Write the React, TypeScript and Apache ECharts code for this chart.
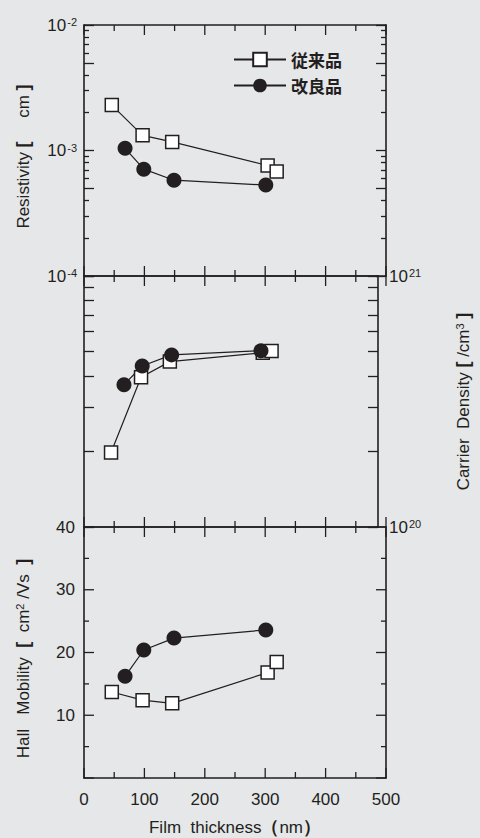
import React, { useEffect, useRef } from "react";
import * as echarts from "echarts";

// ---- data ----
const seriesNames = ["従来品", "改良品"];
const squareX = [46, 97, 146, 304, 319];
const circleX = [68, 99, 149, 301];
const resistivitySquare = [2.3e-3, 1.32e-3, 1.17e-3, 7.6e-4, 6.8e-4];
const resistivityCircle = [1.04e-3, 7.1e-4, 5.8e-4, 5.3e-4];
const densitySquare = [1.98e20, 3.95e20, 4.56e20, 4.95e20, 5.03e20];
const densityCircle = [3.69e20, 4.38e20, 4.85e20, 5.04e20];
const mobilitySquare = [13.7, 12.4, 11.9, 16.8, 18.5];
const mobilityCircle = [16.2, 20.4, 22.3, 23.6];

// ---- tick values ----
const thicknessLabels = [0, 100, 200, 300, 400, 500];
const thicknessMajorTicks = [0, 100, 200, 300, 400, 500];
const thicknessMinorTicks = [50, 150, 250, 350, 450];
const resistivityLabels = [1e-4, 1e-3, 1e-2];
const resistivityMajorTicks = [1e-4, 5e-4, 1e-3, 5e-3, 1e-2];
const resistivityMinorTicks = [2e-4, 3e-4, 4e-4, 6e-4, 7e-4, 8e-4, 9e-4, 2e-3, 3e-3, 4e-3, 6e-3, 7e-3, 8e-3, 9e-3];
// top value kept a hair below 1e21 so log rounding does not drop it
const densityLabels = [1e20, 0.99999e21];
const densityTicks = [1e20, 2e20, 3e20, 4e20, 5e20, 6e20, 7e20, 8e20, 9e20, 0.99999e21];
const mobilityLabels = [10, 20, 30, 40];
const mobilityMajorTicks = [0, 10, 20, 30, 40];
const mobilityMinorTicks = [5, 15, 25, 35];

const INK = "#231f20";
const FONT = "'Liberation Sans', Arial, Helvetica, sans-serif";
const CJK = "'Noto Sans CJK JP', 'Noto Sans CJK SC', sans-serif";

// layout
const PLOT_LEFT = 84;
const PLOT_RIGHT = 386;
const PANEL_TOPS = [25, 276, 527];
const PANEL_H = 251;
const X_MIN = 0;
const X_MAX = 500;
const MOB_MIN = 0;
const MOB_MAX = 40;

const pairs = (xs: number[], ys: number[]) => xs.map((x, i) => [x, ys[i]]);

const supFormatter = (v: number) => {
  const e = Math.round(Math.log10(v));
  return `{b|10}{s|${e}}`;
};

const labelRich = {
  b: { fontSize: 17, fontFamily: FONT, color: INK },
  s: { fontSize: 11, fontFamily: FONT, color: INK, verticalAlign: "top", padding: [0, 0, 0, 1] },
};

const nameRich = {
  n: { fontSize: 17, fontFamily: FONT, color: INK },
  br: { fontSize: 18, fontFamily: FONT, color: INK, fontWeight: "bold" },
  s: { fontSize: 11, fontFamily: FONT, color: INK, verticalAlign: "top" },
};

type AxisSpec = {
  type: string;
  gridIndex: number;
  position: string;
  min: number;
  max: number;
  ticks?: number[];
  tickLen?: number;
  showLine: boolean;
  labels?: number[];
  labelMargin?: number;
  log?: boolean;
  extra?: any;
};

function axis(s: AxisSpec) {
  const base: any = {
    type: s.type,
    gridIndex: s.gridIndex,
    position: s.position,
    min: s.min,
    max: s.max,
    axisLine: { show: s.showLine, onZero: false, lineStyle: { color: INK, width: 1.6 } },
    axisTick: s.ticks
      ? {
          show: true,
          inside: true,
          length: s.tickLen,
          customValues: s.ticks,
          lineStyle: { color: INK, width: 1.3 },
        }
      : { show: false },
    minorTick: { show: false },
    splitLine: { show: false },
    minorSplitLine: { show: false },
    axisLabel: s.labels
      ? {
          show: true,
          customValues: s.labels,
          showMinLabel: true,
          showMaxLabel: true,
          margin: s.labelMargin ?? 8,
          ...(s.log
            ? { formatter: supFormatter, rich: labelRich }
            : { fontSize: 17, fontFamily: FONT, color: INK }),
        }
      : { show: false },
    ...(s.extra || {}),
  };
  if (s.type === "log") base.logBase = 10;
  return base;
}

function xAxesFor(gridIndex: number, withLabels: boolean) {
  const common = { type: "value", gridIndex, min: X_MIN, max: X_MAX };
  return [
    axis({
      ...common,
      position: "bottom",
      showLine: true,
      ...(withLabels
        ? {
            labels: thicknessLabels,
            labelMargin: 13,
            extra: {
              name: "{n|Film  thickness}{br|（}{n|nm}{br|）}",
              nameLocation: "middle",
              nameGap: 40,
              nameTextStyle: { rich: nameRich },
            },
          }
        : {}),
    }),
    axis({ ...common, position: "top", showLine: true }),
  ];
}

const squareStyle = {
  symbol: "rect",
  symbolSize: 13,
  itemStyle: { color: "#ffffff", borderColor: INK, borderWidth: 1.5 },
  lineStyle: { color: INK, width: 1.2 },
};
const circleStyle = {
  symbol: "circle",
  symbolSize: 15,
  itemStyle: { color: INK, borderColor: INK, borderWidth: 0 },
  lineStyle: { color: INK, width: 1.2 },
};

function buildOption() {
  const grids = PANEL_TOPS.map((t) => ({ left: PLOT_LEFT, right: 480 - PLOT_RIGHT, top: t, height: PANEL_H }));
  const xAxis = [...xAxesFor(0, false), ...xAxesFor(1, false), ...xAxesFor(2, true)];

  const resCommon = { type: "log", gridIndex: 0, min: 1e-4, max: 1e-2, log: true };
  const denCommon = { type: "log", gridIndex: 1, min: 1e20, max: 1e21, log: true };
  const mobCommon = { type: "value", gridIndex: 2, min: MOB_MIN, max: MOB_MAX };
  const yAxis = [
    axis({
      ...resCommon,
      position: "left",
      ticks: resistivityMajorTicks,
      tickLen: 10,
      showLine: true,
      labels: resistivityLabels,
      labelMargin: 7,
      extra: {
        name: "{n|Resistivity }{br|[}{n|     cm }{br|]}",
        nameLocation: "middle",
        nameGap: 52,
        nameRotate: 90,
        nameTextStyle: { rich: nameRich, padding: [0, 12, 0, 0] },
      },
    }),
    axis({ ...resCommon, position: "right", ticks: resistivityMajorTicks, tickLen: 10, showLine: true }),
    axis({ ...resCommon, position: "left", ticks: resistivityMinorTicks, tickLen: 5, showLine: false }),
    axis({ ...resCommon, position: "right", ticks: resistivityMinorTicks, tickLen: 5, showLine: false }),
    axis({
      ...denCommon,
      position: "right",
      ticks: densityTicks,
      tickLen: 10,
      showLine: true,
      labels: densityLabels,
      labelMargin: 11,
      extra: {
        name: "{n|Carrier  Density }{br|[}{n| /cm}{s|3}{n| }{br|]}",
        nameLocation: "middle",
        nameGap: 76,
        nameRotate: 90,
        nameTextStyle: { rich: nameRich },
      },
    }),
    axis({ ...denCommon, position: "left", ticks: densityTicks, tickLen: 10, showLine: true }),
    axis({
      ...mobCommon,
      position: "left",
      showLine: true,
      labels: mobilityLabels,
      labelMargin: 9,
      extra: {
        name: "{n|Hall   Mobility  }{br|[}{n|  cm}{s|2}{n| /Vs  }{br|]}",
        nameLocation: "middle",
        nameGap: 52,
        nameRotate: 90,
        nameTextStyle: { rich: nameRich, padding: [0, 12, 0, 0] },
      },
    }),
    axis({ ...mobCommon, position: "right", showLine: true }),
  ];
  const series: any[] = [
    { type: "line", name: seriesNames[0], xAxisIndex: 0, yAxisIndex: 0, data: pairs(squareX, resistivitySquare), ...squareStyle },
    { type: "line", name: seriesNames[1], xAxisIndex: 0, yAxisIndex: 0, data: pairs(circleX, resistivityCircle), ...circleStyle },
    { type: "line", name: seriesNames[0], xAxisIndex: 2, yAxisIndex: 4, data: pairs(squareX, densitySquare), ...squareStyle },
    { type: "line", name: seriesNames[1], xAxisIndex: 2, yAxisIndex: 4, data: pairs(circleX, densityCircle), ...circleStyle },
    { type: "line", name: seriesNames[0], xAxisIndex: 4, yAxisIndex: 6, data: pairs(squareX, mobilitySquare), ...squareStyle },
    { type: "line", name: seriesNames[1], xAxisIndex: 4, yAxisIndex: 6, data: pairs(circleX, mobilityCircle), ...circleStyle },
  ];
  return {
    animation: false,
    backgroundColor: "#e6e7e9",
    grid: grids,
    xAxis,
    yAxis,
    legend: {
      data: seriesNames,
      orient: "vertical",
      left: 228,
      top: 46,
      itemWidth: 52,
      itemHeight: 17,
      itemGap: 9,
      selectedMode: false,
      textStyle: { fontSize: 17, fontWeight: "bold", fontFamily: CJK, color: INK },
    },
    series,
  };
}

// tick marks for the linear axes (thickness and mobility)
function buildTickGraphics(chart: any) {
  const els: any[] = [];
  const style = { stroke: INK, lineWidth: 1.3 };
  const fin = (v: any) => typeof v === "number" && isFinite(v);
  const xPix = (v: number) => {
    let p: any = NaN;
    try {
      p = chart.convertToPixel({ xAxisIndex: 4 }, v);
    } catch (e) {
      p = NaN;
    }
    return fin(p) ? p : PLOT_LEFT + ((v - X_MIN) / (X_MAX - X_MIN)) * (PLOT_RIGHT - PLOT_LEFT);
  };
  const yPix = (v: number) => {
    let p: any = NaN;
    try {
      p = chart.convertToPixel({ yAxisIndex: 6 }, v);
    } catch (e) {
      p = NaN;
    }
    const bottom = PANEL_TOPS[2] + PANEL_H;
    return fin(p) ? p : bottom - ((v - MOB_MIN) / (MOB_MAX - MOB_MIN)) * PANEL_H;
  };
  PANEL_TOPS.forEach((top) => {
    const bottom = top + PANEL_H;
    const add = (vals: number[], len: number) =>
      vals.forEach((v) => {
        const px = xPix(v);
        els.push({ type: "line", z: 10, shape: { x1: px, y1: bottom, x2: px, y2: bottom - len }, style });
        els.push({ type: "line", z: 10, shape: { x1: px, y1: top, x2: px, y2: top + len }, style });
      });
    add(thicknessMajorTicks, 10);
    add(thicknessMinorTicks, 6);
  });
  const addY = (vals: number[], len: number) =>
    vals.forEach((v) => {
      const py = yPix(v);
      els.push({ type: "line", z: 10, shape: { x1: PLOT_LEFT, y1: py, x2: PLOT_LEFT + len, y2: py }, style });
      els.push({ type: "line", z: 10, shape: { x1: PLOT_RIGHT, y1: py, x2: PLOT_RIGHT - len, y2: py }, style });
    });
  addY(mobilityMajorTicks, 10);
  addY(mobilityMinorTicks, 5);
  return els;
}

export default function App() {
  const ref = useRef<HTMLDivElement>(null);
  useEffect(() => {
    if (!ref.current) return;
    const chart = echarts.init(ref.current, null, { renderer: "svg" });
    chart.setOption(buildOption() as any);
    let els: any[] = [];
    try {
      els = buildTickGraphics(chart);
    } catch (e) {
      els = [];
    }
    try {
      chart.setOption({ graphic: els } as any);
    } catch (e) {
      // keep chart without extra ticks
    }
    return () => chart.dispose();
  }, []);
  return (
    <div
      ref={ref}
      style={{ position: "fixed", left: 0, top: 0, width: 480, height: 838, background: "#e6e7e9" }}
    />
  );
}
